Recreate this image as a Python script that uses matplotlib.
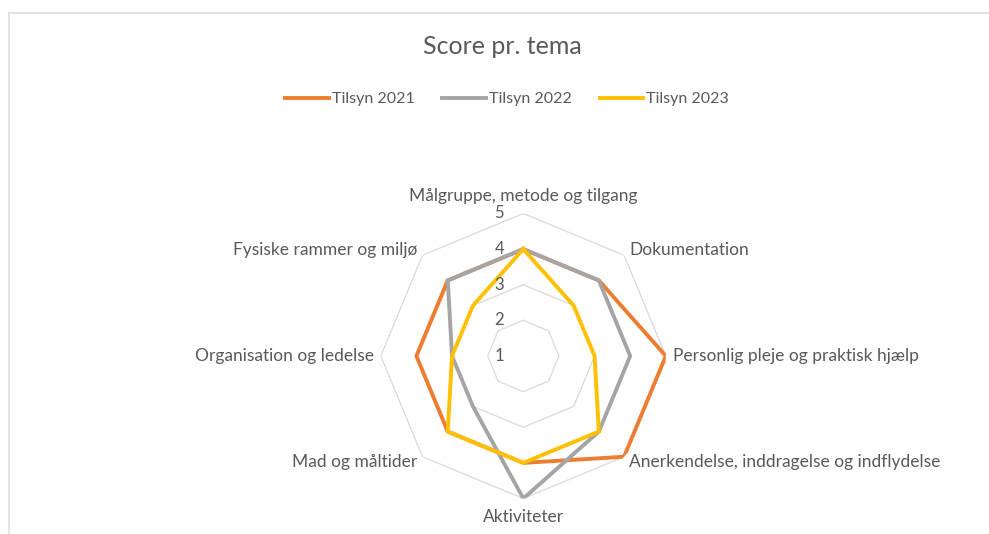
import numpy as np
import matplotlib
matplotlib.use("Agg")
import matplotlib.pyplot as plt
from matplotlib.lines import Line2D

categories = ["Målgruppe, metode og tilgang", "Dokumentation",
              "Personlig pleje og praktisk hjælp",
              "Anerkendelse, inddragelse og indflydelse", "Aktiviteter",
              "Mad og måltider", "Organisation og ledelse",
              "Fysiske rammer og miljø"]
series_names = ["Tilsyn 2021", "Tilsyn 2022", "Tilsyn 2023"]
tilsyn_2021 = [4, 4, 5, 5, 4, 4, 4, 4]
tilsyn_2022 = [4, 4, 4, 4, 5, 3, 3, 4]
tilsyn_2023 = [4, 3, 3, 4, 4, 4, 3, 3]
ticks = [1, 2, 3, 4, 5]

colors = ["#ED7D31", "#A5A5A5", "#FFC000"]
txt_color = "#595959"
plt.rcParams['font.family'] = ['Lato', 'DejaVu Sans']

W, H = 989, 534
fig = plt.figure(figsize=(W / 100, H / 100), dpi=100)
fig.patch.set_facecolor("white")

# frame lines (screenshot border)
fig.add_artist(Line2D([9 / W, 1], [1 - 12.5 / H, 1 - 12.5 / H], color="#E3E3E3", lw=1.5))
fig.add_artist(Line2D([9 / W, 9 / W], [0, 1 - 12.5 / H], color="#E3E3E3", lw=1.5))

cx, cy, R = 523.3, 356, 142.5
ax = fig.add_axes([(cx - R) / W, (H - cy - R) / H, 2 * R / W, 2 * R / H], projection="polar")
ax.set_theta_offset(np.pi / 2)
ax.set_theta_direction(-1)
ax.set_ylim(1, 5)
ax.set_facecolor("none")
ax.grid(False)
ax.spines["polar"].set_visible(False)
ax.set_xticks([])
ax.set_yticks([])

n = len(categories)
theta = np.arange(n) * 2 * np.pi / n
theta_c = np.append(theta, theta[0])

for t in ticks[1:]:
    ax.plot(theta_c, [t] * (n + 1), color="#D9D9D9", lw=0.9, zorder=1)

for name, vals, col in zip(series_names, [tilsyn_2021, tilsyn_2022, tilsyn_2023], colors):
    ax.plot(theta_c, list(vals) + [vals[0]], color=col, lw=2.8, label=name, zorder=3,
            solid_joinstyle="miter")

for t in ticks:
    ax.annotate(str(t), xy=(0, t), xytext=(-24, 0), textcoords="offset pixels",
                ha="center", va="center", fontsize=12, color=txt_color, zorder=4)

offsets = [(0, 18, "center"), (5, 5, "left"), (7, 0, "left"), (5, -5, "left"),
           (0, -18, "center"), (-5, -5, "right"), (-7, 0, "right"), (-5, 5, "right")]
for th, lab, (dx, dy, ha) in zip(theta, categories, offsets):
    ax.annotate(lab, xy=(th, 5), xytext=(dx, dy), textcoords="offset pixels",
                ha=ha, va="center", fontsize=12.5, color=txt_color)

fig.text(502.5 / W, 1 - 47 / H, "Score pr. tema", ha="center", va="center",
         fontsize=18, color=txt_color)

handles, labels = ax.get_legend_handles_labels()
leg = fig.legend(handles, labels, loc="center", bbox_to_anchor=(507 / W, 1 - 99 / H),
                 ncol=3, frameon=False, fontsize=11.5, handlelength=2.7,
                 handletextpad=0.2, columnspacing=1.75, labelcolor=txt_color)

fig.savefig("out.png", dpi=100)
